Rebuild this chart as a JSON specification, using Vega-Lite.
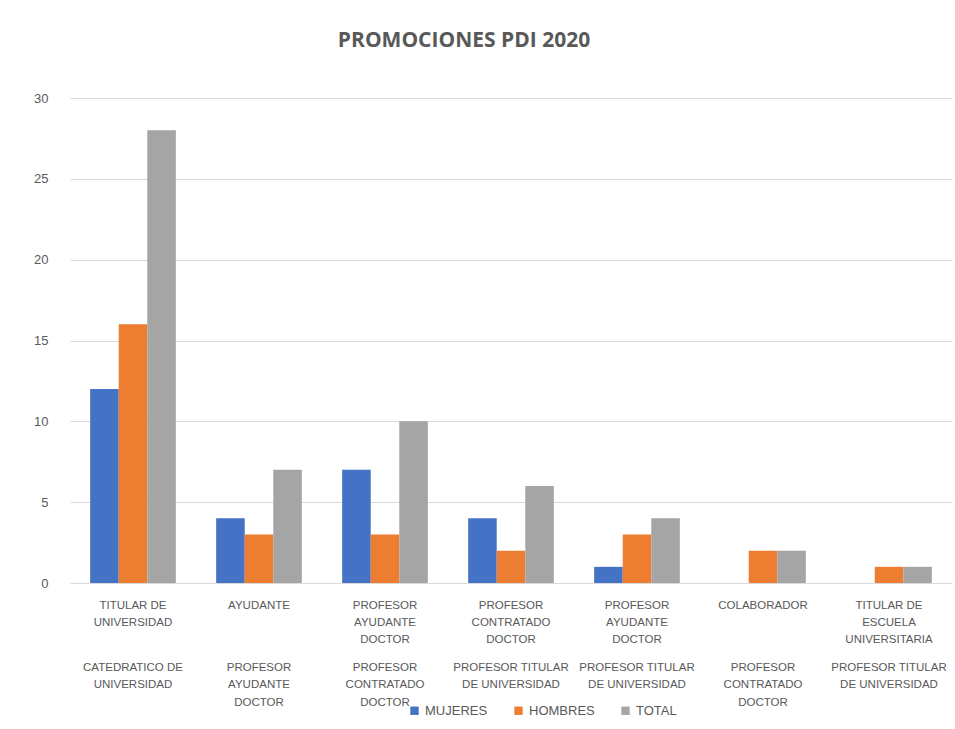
{
  "$schema": "https://vega.github.io/schema/vega-lite/v6.json",
  "width": 882,
  "height": 485,
  "autosize": "none",
  "padding": {"left": 70, "top": 98, "right": 3, "bottom": 146},
  "background": "white",
  "title": {
    "text": "PROMOCIONES PDI 2020",
    "fontSize": 21,
    "font": "Open Sans",
    "fontWeight": "bold",
    "color": "#595959",
    "anchor": "middle",
    "offset": 41,
    "dx": -47
  },
  "config": {
    "view": {"stroke": null},
    "axis": {
      "labelFont": "Liberation Sans",
      "labelColor": "#595959",
      "labelFontSize": 11.5
    },
    "legend": {"labelFont": "Liberation Sans", "labelColor": "#595959", "labelFontSize": 13}
  },
  "data": {
    "values": [
      {"promocion": "TITULAR DE UNIVERSIDAD → CATEDRATICO DE UNIVERSIDAD", "sexo": "MUJERES", "valor": 12},
      {"promocion": "TITULAR DE UNIVERSIDAD → CATEDRATICO DE UNIVERSIDAD", "sexo": "HOMBRES", "valor": 16},
      {"promocion": "TITULAR DE UNIVERSIDAD → CATEDRATICO DE UNIVERSIDAD", "sexo": "TOTAL", "valor": 28},
      {"promocion": "AYUDANTE → PROFESOR AYUDANTE DOCTOR", "sexo": "MUJERES", "valor": 4},
      {"promocion": "AYUDANTE → PROFESOR AYUDANTE DOCTOR", "sexo": "HOMBRES", "valor": 3},
      {"promocion": "AYUDANTE → PROFESOR AYUDANTE DOCTOR", "sexo": "TOTAL", "valor": 7},
      {"promocion": "PROFESOR AYUDANTE DOCTOR → PROFESOR CONTRATADO DOCTOR", "sexo": "MUJERES", "valor": 7},
      {"promocion": "PROFESOR AYUDANTE DOCTOR → PROFESOR CONTRATADO DOCTOR", "sexo": "HOMBRES", "valor": 3},
      {"promocion": "PROFESOR AYUDANTE DOCTOR → PROFESOR CONTRATADO DOCTOR", "sexo": "TOTAL", "valor": 10},
      {"promocion": "PROFESOR CONTRATADO DOCTOR → PROFESOR TITULAR DE UNIVERSIDAD", "sexo": "MUJERES", "valor": 4},
      {"promocion": "PROFESOR CONTRATADO DOCTOR → PROFESOR TITULAR DE UNIVERSIDAD", "sexo": "HOMBRES", "valor": 2},
      {"promocion": "PROFESOR CONTRATADO DOCTOR → PROFESOR TITULAR DE UNIVERSIDAD", "sexo": "TOTAL", "valor": 6},
      {"promocion": "PROFESOR AYUDANTE DOCTOR → PROFESOR TITULAR DE UNIVERSIDAD", "sexo": "MUJERES", "valor": 1},
      {"promocion": "PROFESOR AYUDANTE DOCTOR → PROFESOR TITULAR DE UNIVERSIDAD", "sexo": "HOMBRES", "valor": 3},
      {"promocion": "PROFESOR AYUDANTE DOCTOR → PROFESOR TITULAR DE UNIVERSIDAD", "sexo": "TOTAL", "valor": 4},
      {"promocion": "COLABORADOR → PROFESOR CONTRATADO DOCTOR", "sexo": "MUJERES", "valor": 0},
      {"promocion": "COLABORADOR → PROFESOR CONTRATADO DOCTOR", "sexo": "HOMBRES", "valor": 2},
      {"promocion": "COLABORADOR → PROFESOR CONTRATADO DOCTOR", "sexo": "TOTAL", "valor": 2},
      {"promocion": "TITULAR DE ESCUELA UNIVERSITARIA → PROFESOR TITULAR DE UNIVERSIDAD", "sexo": "MUJERES", "valor": 0},
      {"promocion": "TITULAR DE ESCUELA UNIVERSITARIA → PROFESOR TITULAR DE UNIVERSIDAD", "sexo": "HOMBRES", "valor": 1},
      {"promocion": "TITULAR DE ESCUELA UNIVERSITARIA → PROFESOR TITULAR DE UNIVERSIDAD", "sexo": "TOTAL", "valor": 1}
    ]
  },
  "layer": [
    {
      "mark": {"type": "bar"},
      "encoding": {
        "x": {
          "field": "promocion",
          "type": "nominal",
          "sort": null,
          "scale": {"paddingInner": 0.32, "paddingOuter": 0.16},
          "axis": {
            "title": null,
            "orient": "bottom",
            "domain": false,
            "ticks": false,
            "labelAngle": 0,
            "labelPadding": 16,
            "labelLineHeight": 17,
            "labelBaseline": "top",
            "labelLimit": 0,
            "labelExpr": "({'TITULAR DE UNIVERSIDAD': ['TITULAR DE', 'UNIVERSIDAD'], 'AYUDANTE': 'AYUDANTE', 'PROFESOR AYUDANTE DOCTOR': ['PROFESOR', 'AYUDANTE', 'DOCTOR'], 'PROFESOR CONTRATADO DOCTOR': ['PROFESOR', 'CONTRATADO', 'DOCTOR'], 'COLABORADOR': 'COLABORADOR', 'TITULAR DE ESCUELA UNIVERSITARIA': ['TITULAR DE', 'ESCUELA', 'UNIVERSITARIA']})[split(datum.value, ' → ')[0]]"
          }
        },
        "xOffset": {"field": "sexo", "type": "nominal", "sort": ["MUJERES", "HOMBRES", "TOTAL"]},
        "y": {
          "field": "valor",
          "type": "quantitative",
          "scale": {"domain": [0, 30]},
          "axis": {
            "title": null,
            "domain": false,
            "ticks": false,
            "values": [0, 5, 10, 15, 20, 25, 30],
            "labelPadding": 22,
            "labelFontSize": 13,
            "labelDy": 3,
            "gridColor": "#d9d9d9",
            "gridWidth": 1
          }
        },
        "color": {
          "field": "sexo",
          "type": "nominal",
          "sort": ["MUJERES", "HOMBRES", "TOTAL"],
          "scale": {"domain": ["MUJERES", "HOMBRES", "TOTAL"], "range": ["#4472C4", "#ED7D31", "#A5A5A5"]},
          "legend": {
            "title": null,
            "orient": "none",
            "direction": "horizontal",
            "legendX": 338,
            "legendY": 606,
            "symbolType": "square",
            "symbolSize": 70,
            "symbolStrokeWidth": 0,
            "columnPadding": 24,
            "labelOffset": 4
          }
        }
      }
    },
    {
      "mark": {"type": "bar", "opacity": 0},
      "encoding": {
        "x": {
          "field": "promocion",
          "type": "nominal",
          "sort": null,
          "axis": {
            "title": null,
            "orient": "bottom",
            "domain": false,
            "ticks": false,
            "offset": 62,
            "labelAngle": 0,
            "labelPadding": 16,
            "labelLineHeight": 17.5,
            "labelBaseline": "top",
            "labelLimit": 0,
            "labelExpr": "({'CATEDRATICO DE UNIVERSIDAD': ['CATEDRATICO DE', 'UNIVERSIDAD'], 'PROFESOR AYUDANTE DOCTOR': ['PROFESOR', 'AYUDANTE', 'DOCTOR'], 'PROFESOR CONTRATADO DOCTOR': ['PROFESOR', 'CONTRATADO', 'DOCTOR'], 'PROFESOR TITULAR DE UNIVERSIDAD': ['PROFESOR TITULAR', 'DE UNIVERSIDAD']})[split(datum.value, ' → ')[1]]"
          }
        },
        "xOffset": {"field": "sexo", "type": "nominal", "sort": ["MUJERES", "HOMBRES", "TOTAL"]},
        "y": {"field": "valor", "type": "quantitative"}
      }
    }
  ],
  "resolve": {"axis": {"x": "independent"}}
}
